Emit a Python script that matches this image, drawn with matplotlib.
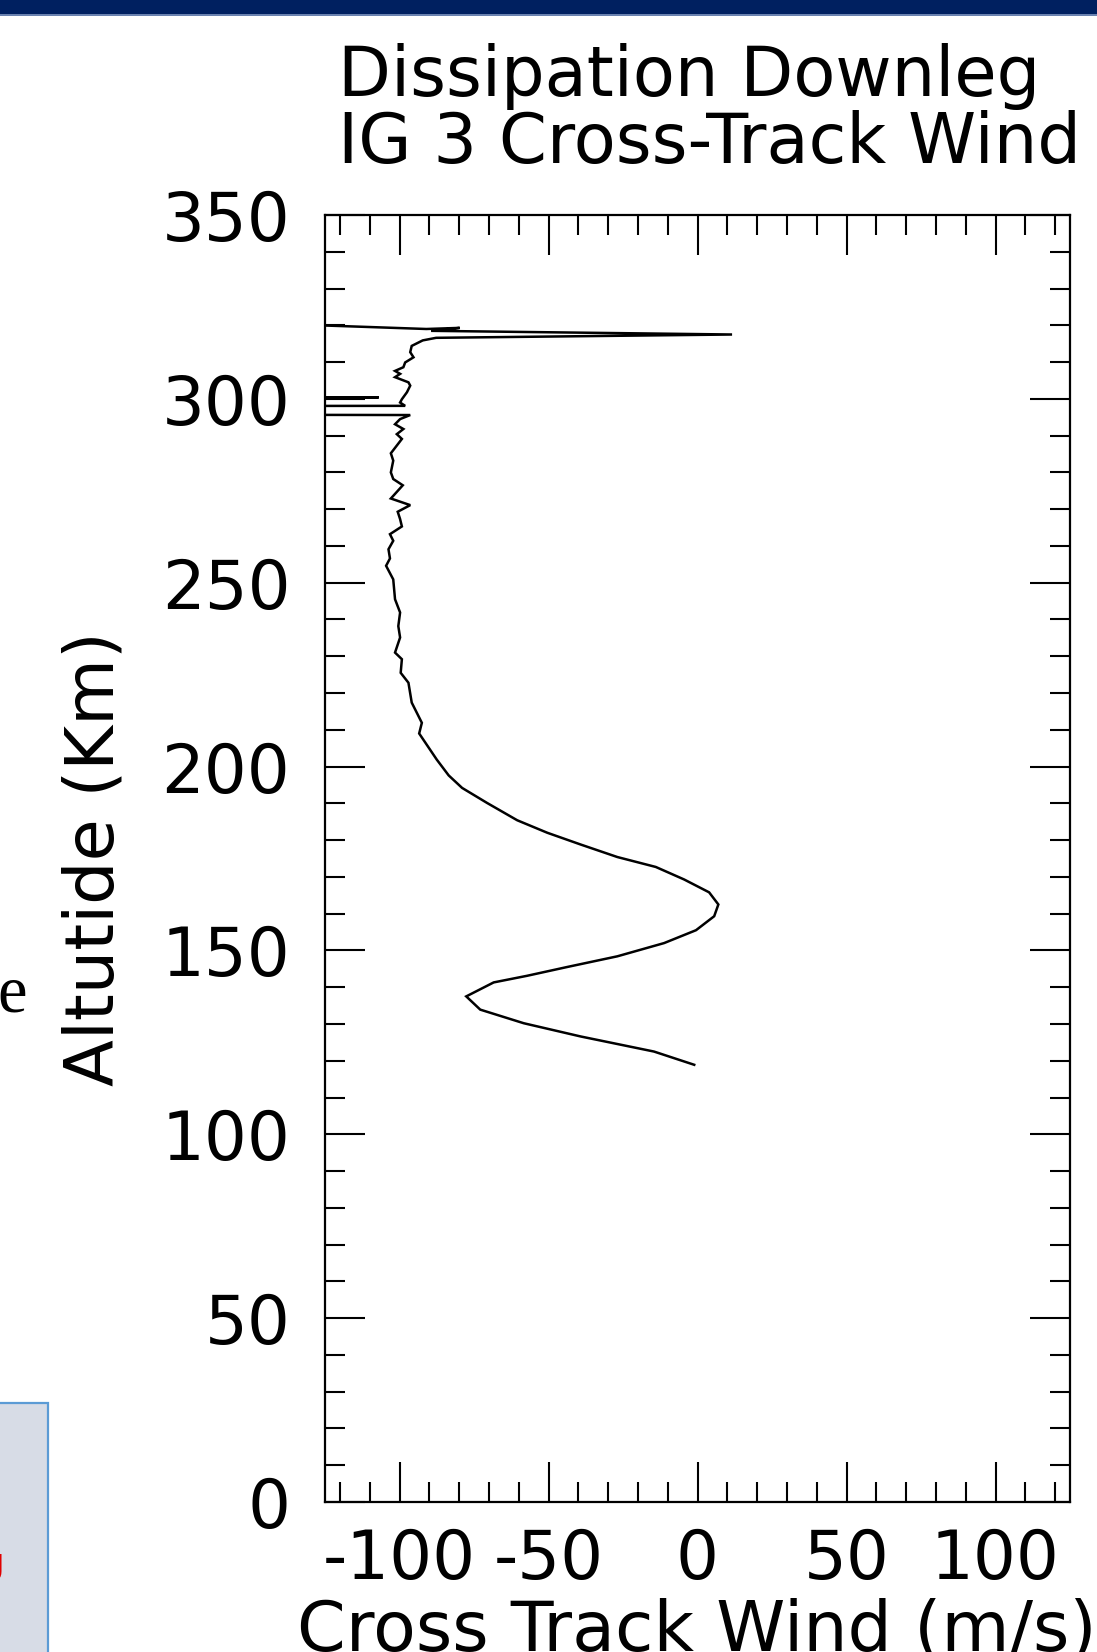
import numpy as np
import matplotlib
matplotlib.use("Agg")
import matplotlib.pyplot as plt
from matplotlib.ticker import MultipleLocator
from matplotlib.patches import Rectangle

# ---- data ----
wind = [-160, -112.4, -91.0, -79.8, -89.4, 11.6, -87.7, -92.2,
        -95.9, -96.4, -95.3, -98.1, -98.7, -101.5, -99.8, -101.5, -97.0, -96.4,
        -97.5, -99.2, -99.8, -98.1,
        -250, -250, -107, -250, -250,
        -96.4, -99.8, -101.5, -98.7, -100.9, -99.2, -102.9, -102.1, -102.9,
        -102.1, -98.9, -102.9, -96.4, -100.6, -99.8, -99.2, -103.2, -102.1,
        -103.7, -103.2, -104.5, -102.1, -101.5, -99.8, -100.4, -99.8, -101.5,
        -99.2, -99.6, -97.0, -95.9, -92.5, -93.4,
        -87.5, -83.5, -79.0, -70.6, -60.5, -50.4, -39.2, -26.9, -14.0, -4.5,
        3.9, 7.0, 5.6, -0.5, -11.2, -26.9, -43.7, -57.2, -68.4, -77.6,
        -72.9, -58.3, -39.2, -14.6, -1.1]
altitude = [320.9, 319.6, 319.0, 319.3, 318.5, 317.5, 316.6, 315.9,
            314.4, 312.7, 311.3, 309.9, 308.6, 307.6, 306.8, 305.9, 304.5, 303.6,
            301.8, 299.9, 299.0, 298.1,
            298.0, 300.4, 300.4, 300.4, 295.8,
            295.6, 294.5, 293.1, 291.8, 290.4, 289.1, 285.2, 283.2, 280.0,
            278.2, 276.5, 272.9, 271.1, 269.3, 267.3, 265.3, 263.2, 261.4,
            259.1, 256.6, 254.6, 250.9, 245.5, 241.9, 238.2, 235.1, 231.0,
            229.2, 225.5, 222.8, 217.4, 211.9, 209.0,
            201.9, 197.6, 194.2, 190.1, 185.4, 182.0, 178.8, 175.4, 172.7, 169.3,
            165.8, 162.5, 159.3, 155.5, 152.0, 148.4, 145.5, 143.1, 141.3, 137.5,
            133.9, 130.2, 126.6, 122.5, 118.9]

x_ticks = [-100, -50, 0, 50, 100]
x_ticklabels = ["-100", "-50", "0", "50", "100"]
y_ticks = [0, 50, 100, 150, 200, 250, 300, 350]
y_ticklabels = ["0", "50", "100", "150", "200", "250", "300", "350"]

title_lines = ["Dissipation Downleg", "IG 3 Cross-Track Wind"]
x_label = "Cross Track Wind (m/s)"
y_label = "Altutide (Km)"

# ---- figure ----
W, H = 1097, 1652
fig = plt.figure(figsize=(W / 100, H / 100), dpi=100)
fig.patch.set_facecolor("white")

# top dark bar of the slide
fig.add_artist(Rectangle((0, 1 - 14 / H), 1, 14 / H, transform=fig.transFigure,
                         facecolor="#002060", edgecolor="none", zorder=5))
fig.add_artist(Rectangle((0, 1 - 15.5 / H), 1, 1.5 / H, transform=fig.transFigure,
                         facecolor="#6A82B0", edgecolor="none", zorder=5))

# bottom-left light box fragment
fig.add_artist(Rectangle((-0.01, -0.01), (48 / W) + 0.01, (1652 - 1403) / H + 0.01,
                         transform=fig.transFigure, facecolor="#D7DCE6",
                         edgecolor="#5B9BD5", linewidth=1.6, zorder=2))
fig.text(3 / W, 1 - 1583 / H, "U", color="#E00000", fontsize=30, fontweight="bold",
         ha="right", va="baseline", family="Liberation Sans", zorder=3)

# stray letter at left edge
fig.text(27 / W, 1 - 1012 / H, "e", fontsize=48, family="Liberation Serif",
         ha="right", va="baseline", color="black")

ax = fig.add_axes([325 / W, 1 - 1502 / H, (1070 - 325) / W, (1502 - 215) / H])
ax.plot(wind, altitude, color="black", linewidth=1.8, solid_joinstyle="miter")
ax.set_xlim(-125, 125)
ax.set_ylim(0, 350)

ax.set_xticks(x_ticks)
ax.set_xticklabels(x_ticklabels)
ax.set_yticks(y_ticks)
ax.set_yticklabels(y_ticklabels)
ax.xaxis.set_minor_locator(MultipleLocator(10))
ax.yaxis.set_minor_locator(MultipleLocator(10))

for s in ax.spines.values():
    s.set_linewidth(1.6)

ax.tick_params(which="both", direction="in", top=True, right=True, width=1.5,
               color="black")
ax.tick_params(which="major", length=28.8)
ax.tick_params(which="minor", length=14.4)
ax.tick_params(axis="x", which="major", labelsize=48.5, pad=18)
ax.tick_params(axis="y", which="major", labelsize=48.5, pad=25)

# titles
fig.text(338 / W, 1 - 96 / H, title_lines[0], fontsize=49.5, ha="left", va="baseline")
fig.text(338 / W, 1 - 163 / H, title_lines[1], fontsize=49.5, ha="left", va="baseline")

# axis labels
fig.text(697 / W, 1 - 1651 / H, x_label, fontsize=50.3, ha="center", va="baseline")
fig.text(95 / W, 1 - 859 / H, y_label, fontsize=49.3, rotation=90,
         ha="center", va="center")

fig.savefig("out.png", dpi=100)
